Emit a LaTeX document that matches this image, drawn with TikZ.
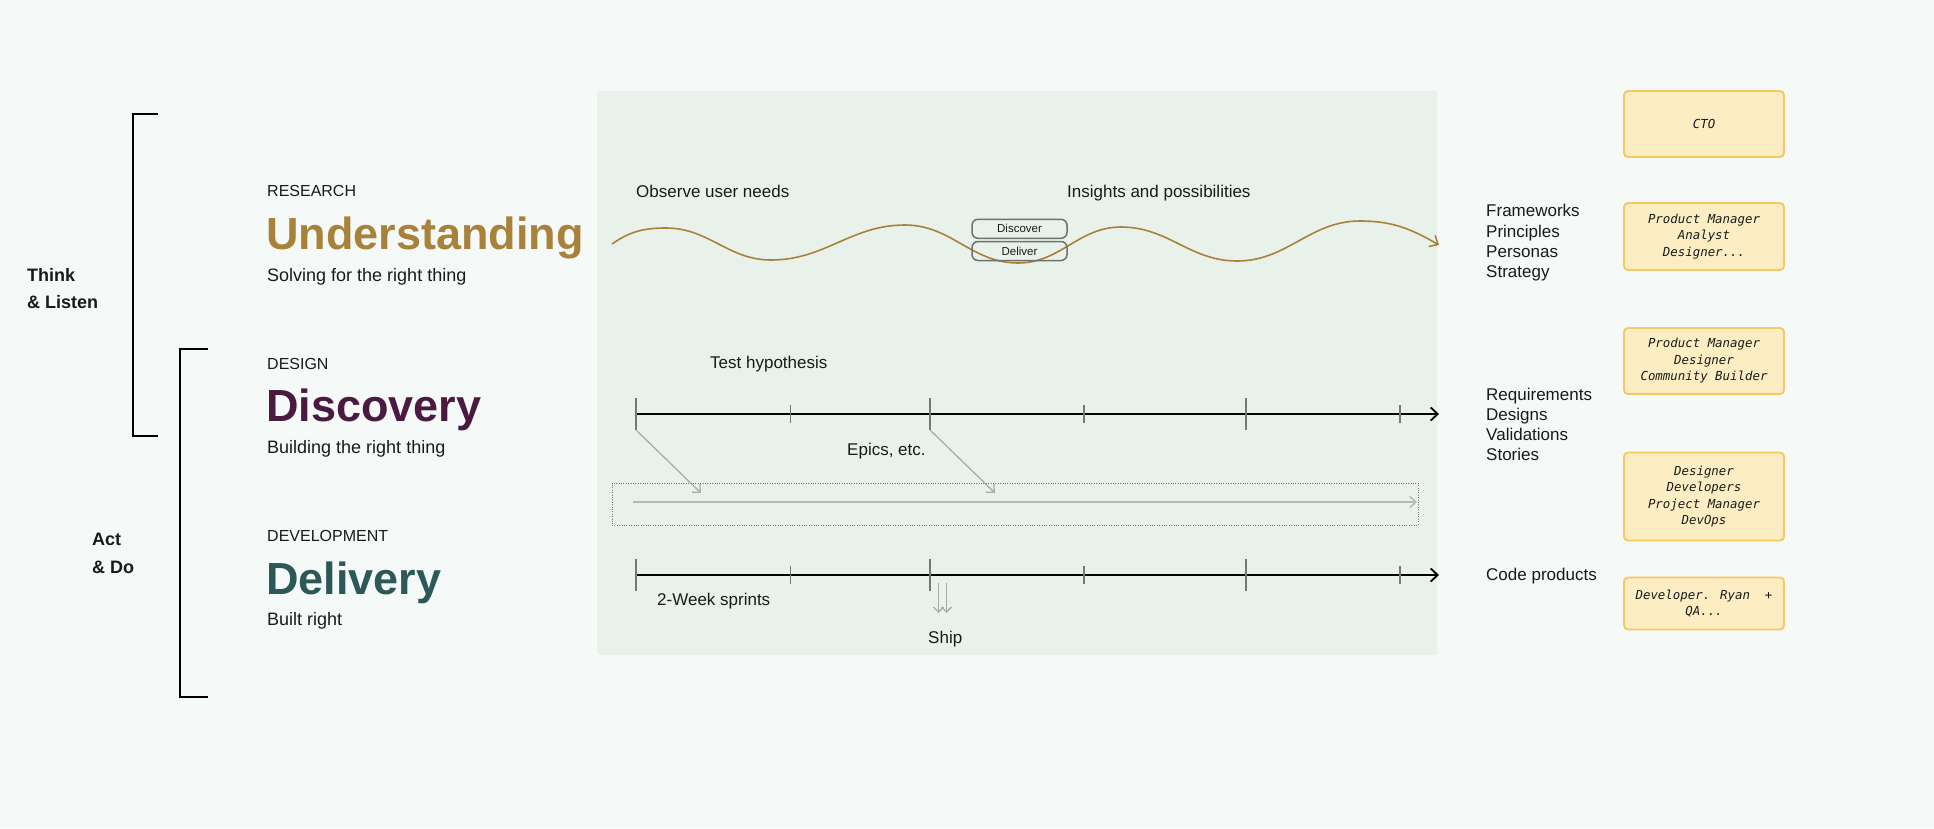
\documentclass[tikz,border=0pt]{standalone}
\usepackage{fontspec}
\setmainfont{Liberation Sans}
\newfontfamily\handfont{DejaVu Sans Mono}
\usetikzlibrary{arrows.meta}
\definecolor{bg}{HTML}{F5F9F8}
\definecolor{panel}{HTML}{E8F2EA}
\definecolor{gold}{HTML}{A8823A}
\definecolor{plum}{HTML}{4B1A40}
\definecolor{tealc}{HTML}{2C5858}
\definecolor{ink}{HTML}{1A1A1A}
\definecolor{tickgray}{HTML}{777777}
\definecolor{lightg}{HTML}{ABABAB}
\definecolor{boxfill}{HTML}{FDEDC3}
\definecolor{boxedge}{HTML}{F6C85F}
\definecolor{pillgray}{HTML}{707070}
\begin{document}
\begin{tikzpicture}[x=1pt,y=-1pt,
  lbl/.style={anchor=base west, inner sep=0pt, text=ink},
  capsf/.style={lbl, font=\fontsize{16}{19}\selectfont},
  bigf/.style={lbl, font=\fontsize{45}{50}\selectfont\bfseries},
  subf/.style={lbl, font=\fontsize{18}{21}\selectfont},
  sidef/.style={lbl, font=\fontsize{18}{27}\selectfont\bfseries},
  panelf/.style={lbl, font=\fontsize{17}{20}\selectfont},
  rightf/.style={lbl, font=\fontsize{17}{20}\selectfont},
  pill/.style={draw=pillgray, line width=1.5pt, rounded corners=6pt, minimum width=95pt, minimum height=19pt, inner sep=0pt, font=\fontsize{11.5}{13}\selectfont, text=ink},
  rolebox/.style={draw=boxedge, fill=boxfill, line width=1.8pt, rounded corners=4pt, minimum width=160pt, inner sep=0pt, align=center, text=ink, font=\handfont\itshape\fontsize{12.4}{16.5}\selectfont},
  bracket/.style={draw=black, line width=2pt},
  tline/.style={draw=black, line width=1.8pt, -{Straight Barb[length=7pt,width=13pt]}},
  tickl/.style={draw=tickgray, line width=1.5pt},
  garrow/.style={draw=lightg, line width=1.3pt, -{Straight Barb[length=6pt,width=11pt]}},
  wave/.style={draw=gold, line width=1.6pt, -{Straight Barb[length=7pt,width=13pt]}}
]
\useasboundingbox (0,0) rectangle (1934,828);
\fill[bg] (0,0) rectangle (1934,828);
\fill[panel, rounded corners=2pt] (597,91) rectangle (1437,655);

% brackets
\draw[bracket] (158,114) -- (133,114) -- (133,436) -- (158,436);
\draw[bracket] (208,349) -- (180,349) -- (180,697) -- (208,697);
\node[sidef] (think) at (27,281) {Think};
\node[sidef] (listen) at (27,308.5) {\& Listen};
\node[sidef] (act) at (92,545) {Act};
\node[sidef] (ado) at (92,573) {\& Do};

% left titles
\node[capsf] (research) at (267,196.5) {RESEARCH};
\node[bigf, text=gold] (und) at (266,249) {Understanding};
\node[subf] (solving) at (267,281) {Solving for the right thing};
\node[capsf] (design) at (267,369) {DESIGN};
\node[bigf, text=plum] (disc) at (266,421.5) {Discovery};
\node[subf] (building) at (267,453) {Building the right thing};
\node[capsf] (develop) at (267,541) {DEVELOPMENT};
\node[bigf, text=tealc] (deliv) at (266,594) {Delivery};
\node[subf] (built) at (267,625.5) {Built right};

% panel labels
\node[panelf] (observe) at (636,197) {Observe user needs};
\node[panelf] (insights) at (1067,197) {Insights and possibilities};
\node[panelf] (test) at (710,368) {Test hypothesis};
\node[panelf] (epics) at (847,455) {Epics, etc.};
\node[panelf] (sprints) at (657,605) {2-Week sprints};
\node[panelf] (ship) at (928,643) {Ship};

% wave
\coordinate (ws) at (612,244);
\coordinate (we) at (1439,245);
\draw[wave] (ws) to[out=35,in=180] (666,228) to[out=0,in=180] (771,260)
  to[out=0,in=180] (905,225) to[out=0,in=180] (1018,263)
  to[out=0,in=180] (1121,227) to[out=0,in=180] (1237,261)
  to[out=0,in=180] (1360,221) to[out=0,in=150] (we);
\node[pill] (discover) at (1019.5,228.8) {Discover};
\node[pill] (deliver) at (1019.5,251) {Deliver};

% timelines
\coordinate (a0) at (636,414);
\coordinate (a1) at (1439,414);
\coordinate (b0) at (636,575);
\coordinate (b1) at (1439,575);
\draw[tline] (a0) -- (a1);
\draw[tline] (b0) -- (b1);
\foreach \yy in {414,575}{
  \foreach \xx in {636,930,1246}{\draw[tickl] (\xx,\yy-16) -- (\xx,\yy+16);}
  \foreach \xx in {790.5,1084,1400}{\draw[tickl] (\xx,\yy-9) -- (\xx,\yy+9);}
}

% discovery -> backlog
\coordinate (d1s) at (636,430);
\coordinate (d1e) at (701,493);
\coordinate (d2s) at (930,430);
\coordinate (d2e) at (995,493);
\draw[garrow] (d1s) -- (d1e);
\draw[garrow] (d2s) -- (d2e);
\node[draw=tickgray, line width=1pt, dash pattern=on 1pt off 1.4pt, minimum width=806pt, minimum height=42pt, inner sep=0pt] (backlog) at (1015,504) {};
\coordinate (bls) at (633,502);
\coordinate (ble) at (1417,502);
\draw[garrow, draw=lightg!85, line width=1.5pt] (bls) -- (ble);

% ship arrows
\coordinate (s1s) at (938.5,583);
\coordinate (s1e) at (938.5,613);
\coordinate (s2s) at (946.5,583);
\coordinate (s2e) at (946.5,613);
\draw[garrow, -{Straight Barb[length=5pt,width=10pt]}] (s1s) -- (s1e);
\draw[garrow, -{Straight Barb[length=5pt,width=10pt]}] (s2s) -- (s2e);

% right outputs
\node[rightf] (fw1) at (1486,216.7) {Frameworks};
\node[rightf] (fw2) at (1486,237) {Principles};
\node[rightf] (fw3) at (1486,257) {Personas};
\node[rightf] (fw4) at (1486,277) {Strategy};
\node[rightf] (rq1) at (1486,400.7) {Requirements};
\node[rightf] (rq2) at (1486,420.7) {Designs};
\node[rightf] (rq3) at (1486,440.7) {Validations};
\node[rightf] (rq4) at (1486,460.7) {Stories};
\node[rightf] (cp1) at (1486,580.7) {Code products};

% role boxes
\node[rolebox, minimum height=66pt] (cto) at (1704,124) {CTO};
\node[rolebox, minimum height=67pt] (r2) at (1704,236.5) {Product Manager\\Analyst\\Designer...};
\node[rolebox, minimum height=66pt] (r3) at (1704,361) {Product Manager\\Designer\\Community Builder};
\node[rolebox, minimum height=88pt] (r4) at (1704,496.5) {Designer\\Developers\\Project Manager\\DevOps};
\node[rolebox, minimum height=52pt] (r5) at (1704,603.5) {Developer. Ryan\ \ +\\QA...};
\end{tikzpicture}
\end{document}
